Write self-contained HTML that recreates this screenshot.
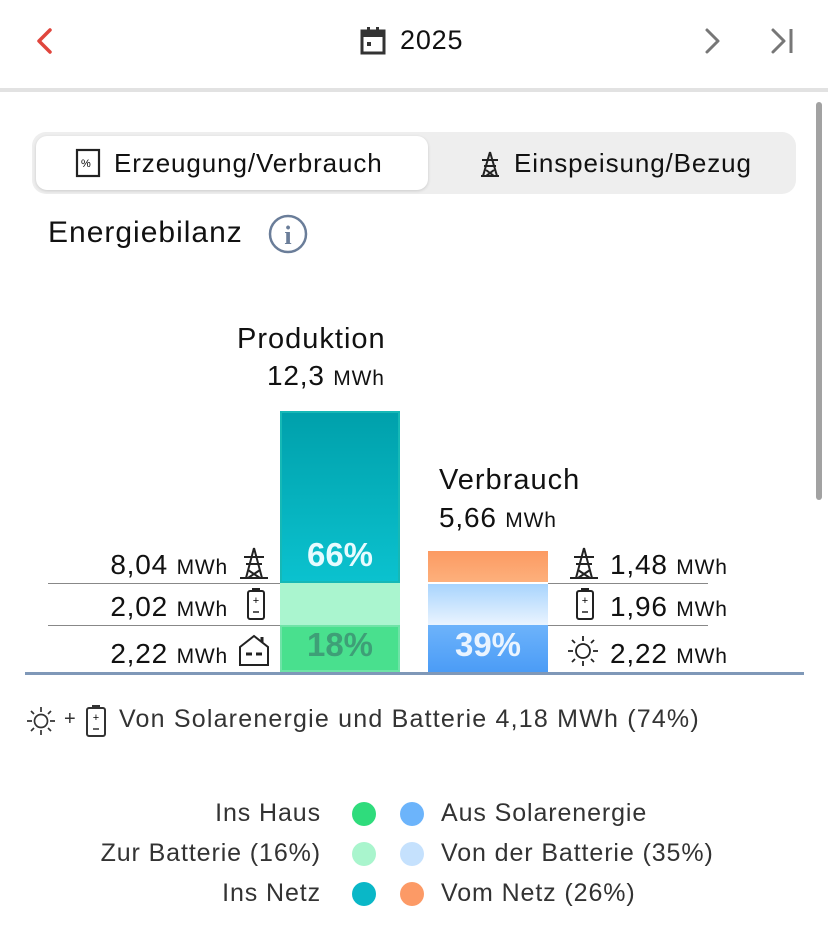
<!DOCTYPE html>
<html><head><meta charset="utf-8"><style>
body{margin:0;width:828px;height:948px;background:#fff;position:relative;overflow:hidden;font-family:"Liberation Sans",sans-serif;color:#111}
.a{position:absolute;white-space:nowrap}
.u{font-size:21px;letter-spacing:0.8px}
.v{font-size:28px;letter-spacing:0.8px}
.lg{font-size:25px;color:#333;letter-spacing:0.9px}
.dot{position:absolute;width:24px;height:24px;border-radius:50%}
svg{position:absolute}
</style></head><body>
<!-- header -->
<svg style="left:34px;top:27px" width="20" height="28"><polyline points="16,3 5,14 16,25" fill="none" stroke="#e0463d" stroke-width="3.5" stroke-linecap="round" stroke-linejoin="round"/></svg>
<svg style="left:360px;top:27px" width="27" height="28"><rect x="2" y="4" width="22" height="22" fill="none" stroke="#333" stroke-width="3"/><rect x="2" y="4" width="22" height="6" fill="#333"/><rect x="7" y="0" width="3" height="6" fill="#333"/><rect x="16" y="0" width="3" height="6" fill="#333"/><rect x="7" y="15" width="4" height="4" fill="#333"/></svg>
<div class="a" style="left:400px;top:25px;font-size:27px;letter-spacing:0.8px">2025</div>
<svg style="left:702px;top:27px" width="20" height="28"><polyline points="5,3 16,14 5,25" fill="none" stroke="#777" stroke-width="3" stroke-linecap="round" stroke-linejoin="round"/></svg>
<svg style="left:770px;top:27px" width="26" height="28"><polyline points="3,3 14,14 3,25" fill="none" stroke="#777" stroke-width="3" stroke-linecap="round" stroke-linejoin="round"/><line x1="21" y1="2" x2="21" y2="26" stroke="#777" stroke-width="3"/></svg>
<div class="a" style="left:0;top:88px;width:828px;height:4px;background:#e2e2e2"></div>
<div class="a" style="left:816px;top:102px;width:6px;height:398px;background:#a2a2a2;border-radius:3px"></div>
<!-- segmented -->
<div class="a" style="left:32px;top:132px;width:764px;height:62px;background:#eeeeee;border-radius:14px"></div>
<div class="a" style="left:36px;top:136px;width:392px;height:54px;background:#fff;border-radius:11px;box-shadow:0 1px 3px rgba(0,0,0,.15)"></div>
<svg style="left:75px;top:148px" width="28" height="30"><rect x="2" y="2" width="22" height="26" fill="none" stroke="#222" stroke-width="2.2"/><text x="6" y="19" font-size="11" font-family="Liberation Sans">%</text></svg>
<div class="a" style="left:114px;top:148px;font-size:26px;letter-spacing:0.9px">Erzeugung/Verbrauch</div>
<svg style="left:478px;top:150px" width="24" height="28"><path d="M12 2 L5 26 M12 2 L19 26 M4 10 H20 M6 16 H18 M3 26 H21 M8 20 L16 26 M16 20 L8 26" stroke="#222" stroke-width="2" fill="none"/></svg>
<div class="a" style="left:514px;top:148px;font-size:26px;letter-spacing:0.9px">Einspeisung/Bezug</div>
<div class="a" style="left:48px;top:216px;font-size:30px;letter-spacing:1px">Energiebilanz</div>
<svg style="left:268px;top:213px" width="42" height="42"><circle cx="20" cy="21" r="18" fill="none" stroke="#6a7d99" stroke-width="2.5"/><text x="20" y="31" text-anchor="middle" font-size="26" font-family="Liberation Serif" font-weight="bold" fill="#6a7d99">i</text></svg>
<!-- titles -->
<div class="a" style="left:237px;top:323px;font-size:29px;letter-spacing:1px">Produktion</div>
<div class="a v" style="left:267px;top:360px">12,3 <span class="u">MWh</span></div>
<div class="a" style="left:439px;top:464px;font-size:29px;letter-spacing:1px">Verbrauch</div>
<div class="a v" style="left:439px;top:502px">5,66 <span class="u">MWh</span></div>
<!-- bars -->
<div class="a" style="left:280px;top:411px;width:120px;height:172px;background:linear-gradient(#00a0ab,#0bc2cf);box-shadow:inset 0 0 0 2px #16b8b6"></div>
<div class="a" style="left:280px;top:583px;width:120px;height:42px;background:#aaf5cf"></div>
<div class="a" style="left:280px;top:625px;width:120px;height:47px;background:#49e08e;box-shadow:inset 0 0 0 2px #6fe3a7"></div>
<div class="a" style="left:280px;top:536px;width:120px;text-align:center;font-size:33px;font-weight:bold;color:#e7fbff">66%</div>
<div class="a" style="left:280px;top:626px;width:120px;text-align:center;font-size:33px;font-weight:bold;color:#3e9f77">18%</div>
<div class="a" style="left:428px;top:551px;width:120px;height:31px;background:linear-gradient(#fc9a62,#fdb07c)"></div>
<div class="a" style="left:428px;top:584px;width:120px;height:41px;background:linear-gradient(#a8d4fd,#eaf4ff)"></div>
<div class="a" style="left:428px;top:625px;width:120px;height:47px;background:linear-gradient(#6db3fb,#4b9cf6)"></div>
<div class="a" style="left:428px;top:626px;width:120px;text-align:center;font-size:33px;font-weight:bold;color:#eaf4ff">39%</div>
<!-- row lines -->
<div class="a" style="left:48px;top:583px;width:232px;height:1px;background:#888"></div>
<div class="a" style="left:48px;top:625px;width:232px;height:1px;background:#888"></div>
<div class="a" style="left:548px;top:583px;width:160px;height:1px;background:#888"></div>
<div class="a" style="left:548px;top:625px;width:160px;height:1px;background:#888"></div>
<div class="a" style="left:25px;top:672px;width:779px;height:3px;background:#7f98b8"></div>
<!-- left labels -->
<div class="a v" style="right:600px;top:549px">8,04 <span class="u">MWh</span></div>
<div class="a v" style="right:600px;top:591px">2,02 <span class="u">MWh</span></div>
<div class="a v" style="right:600px;top:638px">2,22 <span class="u">MWh</span></div>
<svg style="left:238px;top:546px" width="32" height="34"><path d="M16 2 L8 32 M16 2 L24 32 M6 11 H26 M8 18 H24 M2 32 H30 M10 24 L22 32 M22 24 L10 32" stroke="#222" stroke-width="2" fill="none"/></svg>
<svg style="left:246px;top:587px" width="20" height="34"><rect x="6" y="1" width="8" height="3" fill="#222"/><rect x="2" y="4" width="16" height="28" rx="2" fill="none" stroke="#222" stroke-width="2"/><text x="10" y="17" font-size="11" text-anchor="middle" font-family="Liberation Sans">+</text><line x1="7" y1="25" x2="13" y2="25" stroke="#222" stroke-width="1.5"/></svg>
<svg style="left:237px;top:633px" width="34" height="34"><path d="M3 14 L17 3 L31 14 V32 H3 Z" fill="none" stroke="#222" stroke-width="2"/><line x1="25" y1="4" x2="25" y2="9" stroke="#222" stroke-width="3"/><line x1="9" y1="21" x2="15" y2="21" stroke="#222" stroke-width="3"/><line x1="19" y1="21" x2="25" y2="21" stroke="#222" stroke-width="3"/></svg>
<!-- right labels -->
<svg style="left:568px;top:546px" width="32" height="34"><path d="M16 2 L8 32 M16 2 L24 32 M6 11 H26 M8 18 H24 M2 32 H30 M10 24 L22 32 M22 24 L10 32" stroke="#222" stroke-width="2" fill="none"/></svg>
<div class="a v" style="left:610px;top:549px">1,48 <span class="u">MWh</span></div>
<svg style="left:575px;top:587px" width="20" height="34"><rect x="6" y="1" width="8" height="3" fill="#222"/><rect x="2" y="4" width="16" height="28" rx="2" fill="none" stroke="#222" stroke-width="2"/><text x="10" y="17" font-size="11" text-anchor="middle" font-family="Liberation Sans">+</text><line x1="7" y1="25" x2="13" y2="25" stroke="#222" stroke-width="1.5"/></svg>
<div class="a v" style="left:610px;top:591px">1,96 <span class="u">MWh</span></div>
<svg style="left:566px;top:634px" width="34" height="34"><circle cx="17" cy="17" r="7" fill="none" stroke="#222" stroke-width="1.8"/><path d="M17 2V7 M17 27V32 M2 17H7 M27 17H32 M6 6L9 9 M25 25L28 28 M6 28L9 25 M25 9L28 6" stroke="#222" stroke-width="1.8"/></svg>
<div class="a v" style="left:610px;top:638px">2,22 <span class="u">MWh</span></div>
<!-- summary -->
<svg style="left:25px;top:705px" width="32" height="32"><circle cx="16" cy="16" r="6.5" fill="none" stroke="#333" stroke-width="1.7"/><path d="M16 2V7 M16 25V30 M2 16H7 M25 16H30 M6 6L9 9 M23 23L26 26 M6 26L9 23 M23 9L26 6" stroke="#333" stroke-width="1.7"/></svg>
<div class="a" style="left:64px;top:708px;font-size:20px;color:#333">+</div>
<svg style="left:85px;top:704px" width="22" height="34"><rect x="7" y="1" width="8" height="3" fill="#333"/><rect x="2" y="4" width="18" height="28" rx="2" fill="none" stroke="#333" stroke-width="2"/><text x="11" y="17" font-size="11" text-anchor="middle" font-family="Liberation Sans">+</text><line x1="8" y1="25" x2="14" y2="25" stroke="#333" stroke-width="1.5"/></svg>
<div class="a" style="left:119px;top:705px;font-size:25px;letter-spacing:1.2px;color:#333">Von Solarenergie und Batterie 4,18 MWh (74%)</div>
<!-- legend -->
<div class="a lg" style="right:507px;top:799px">Ins Haus</div>
<div class="a lg" style="right:507px;top:839px">Zur Batterie (16%)</div>
<div class="a lg" style="right:507px;top:879px">Ins Netz</div>
<div class="dot" style="left:352px;top:802px;background:#2fdc7c"></div>
<div class="dot" style="left:352px;top:842px;background:#a9f5cd"></div>
<div class="dot" style="left:352px;top:882px;background:#0ab7c7"></div>
<div class="dot" style="left:400px;top:802px;background:#6cb4fb"></div>
<div class="dot" style="left:400px;top:842px;background:#c5e1fd"></div>
<div class="dot" style="left:400px;top:882px;background:#fc9a66"></div>
<div class="a lg" style="left:441px;top:799px">Aus Solarenergie</div>
<div class="a lg" style="left:441px;top:839px">Von der Batterie (35%)</div>
<div class="a lg" style="left:441px;top:879px">Vom Netz (26%)</div>
</body></html>
